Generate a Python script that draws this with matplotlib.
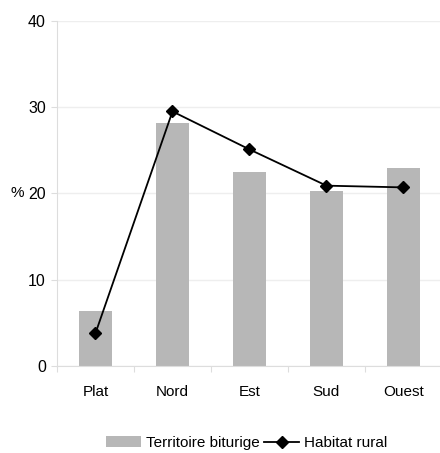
import matplotlib
matplotlib.use("Agg")
import matplotlib.pyplot as plt
import numpy as np

categories = ["Plat", "Nord", "Est", "Sud", "Ouest"]
territoire = [6.4, 28.2, 22.5, 20.3, 23.0]
habitat = [3.8, 29.5, 25.1, 20.9, 20.7]
yticks = [0, 10, 20, 30, 40]

plt.rcParams['font.family'] = ['Liberation Sans', 'DejaVu Sans']

fig = plt.figure(figsize=(4.40, 4.53), dpi=100)
ax = fig.add_axes([0.1295, 0.192, 0.875, 0.762])

x = np.arange(len(categories))
bars = ax.bar(x, territoire, width=0.42, color="#b7b7b7", label="Territoire biturige", zorder=2)
line, = ax.plot(x, habitat, color="black", marker="D", markersize=6, linewidth=1.3,
                label="Habitat rural", zorder=3)

ax.set_xlim(-0.5, len(categories) - 0.5)
ax.set_ylim(0, 40)
ax.set_yticks(yticks)
ax.set_yticklabels([str(v) for v in yticks], fontsize=11.5)
ax.yaxis.grid(True, color="#eeeeee", linewidth=1, zorder=0)
ax.set_axisbelow(True)

ax.set_xticks(np.arange(len(categories) + 1) - 0.5)
ax.set_xticklabels([])
ax.set_xticks(x, minor=True)
ax.set_xticklabels(categories, minor=True, fontsize=11)
ax.tick_params(axis="x", which="minor", length=0, pad=14)
ax.tick_params(axis="x", which="major", length=4, color="#dddddd")
ax.tick_params(axis="y", length=4, color="#dddddd", pad=4)

for s in ["top", "right"]:
    ax.spines[s].set_visible(False)
for s in ["left", "bottom"]:
    ax.spines[s].set_color("#dddddd")

fig.text(10 / 440, ax.transData.transform((0, 20))[1] / fig.bbox.height, "%",
         fontsize=11, va="center", ha="left")

fig.legend([bars, line], ["Territoire biturige", "Habitat rural"],
           loc="center", bbox_to_anchor=(0.56, 0.022), ncol=2, frameon=False,
           fontsize=11, handlelength=2.3, handletextpad=0.3, columnspacing=0.3)

fig.savefig("out.png", dpi=100)
